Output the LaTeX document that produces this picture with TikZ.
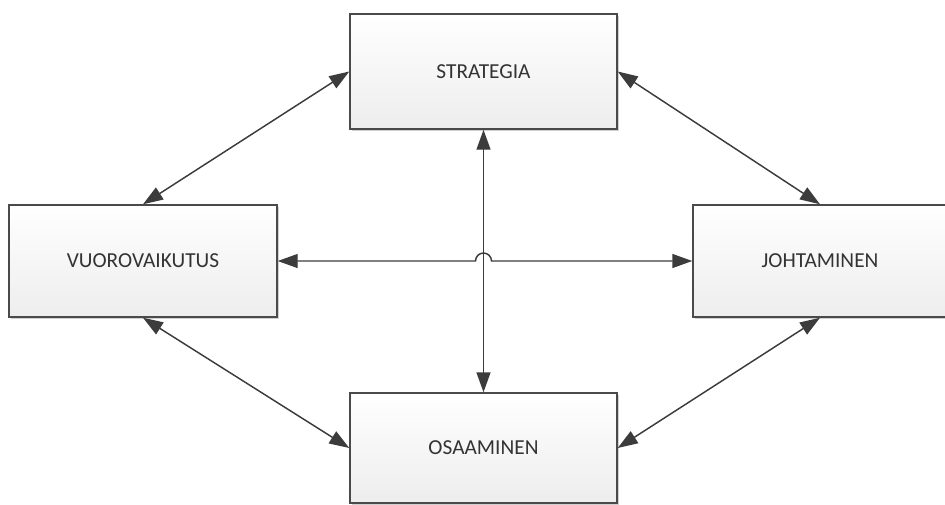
\documentclass[tikz,border=0pt]{standalone}
\usepackage{fontspec}
\setmainfont{Carlito}
\usetikzlibrary{arrows.meta,shadows}
\definecolor{edge}{HTML}{4A4A4A}
\definecolor{ink}{HTML}{333333}
\definecolor{linkc}{HTML}{3C3C3C}
\tikzset{
  box/.style={draw=edge, line width=1.1pt, top color=white, bottom color=black!7,
    text=ink, font=\fontsize{16}{19}\selectfont, inner sep=0pt,
    drop shadow={shadow xshift=1.2pt, shadow yshift=-1.2pt, opacity=0.18, fill=black}},
  link/.style={draw=linkc, line width=1.1pt,
    {Triangle[length=15pt,width=10.5pt]}-{Triangle[length=15pt,width=10.5pt]}}
}
\begin{document}
\begin{tikzpicture}[x=0.75pt,y=-0.75pt]
  \useasboundingbox (0,0) rectangle (945,504);
  % the four boxes
  \node[box, minimum width=267*0.75pt, minimum height=115*0.75pt] (st) at (483.5,71.5) {STRATEGIA};
  \node[box, minimum width=268*0.75pt, minimum height=112*0.75pt] (vu) at (143,261) {VUOROVAIKUTUS};
  \node[box, minimum width=254*0.75pt, minimum height=112*0.75pt] (jo) at (820,261) {JOHTAMINEN};
  \node[box, minimum width=267*0.75pt, minimum height=110*0.75pt] (os) at (483.5,448) {OSAAMINEN};
  % diagonal links
  \draw[link] (st.west) -- (vu.north);
  \draw[link] (st.east) -- (jo.north);
  \draw[link] (vu.south) -- (os.west);
  \draw[link] (jo.south) -- (os.east);
  % vertical link
  \draw[link] (st.south) -- (os.north);
  % horizontal link with a hop over the vertical one
  \coordinate (hopL) at (475.5,261);
  \draw[link] (vu.east) -- (hopL) arc[start angle=180, end angle=0, radius=8*0.75pt] -- (jo.west);
\end{tikzpicture}
\end{document}
